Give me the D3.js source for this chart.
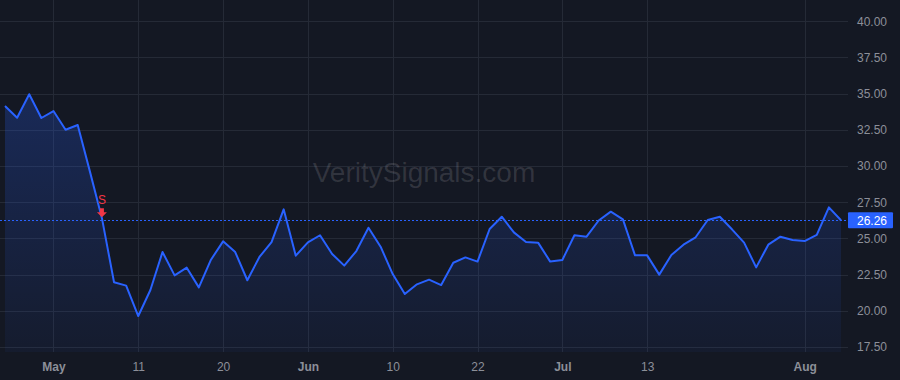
<!DOCTYPE html>
<html>
<head>
<meta charset="utf-8">
<script src="https://cdn.jsdelivr.net/npm/d3@7"></script>
<style>
  html, body { margin: 0; padding: 0; background: #141823; }
  svg { display: block; font-family: "Liberation Sans", Arial, sans-serif; }
</style>
</head>
<body>
<div id="chart"></div>
<script>
// closing values, one per bar
const values = [
  34.15, 33.34, 34.96, 33.32, 33.80, 32.51, 32.84, 29.65, 26.40, 21.97,
  21.74, 19.64, 21.44, 24.06, 22.45, 22.98, 21.62, 23.53, 24.80, 24.06,
  22.11, 23.72, 24.75, 27.01, 23.81, 24.73, 25.22, 23.93, 23.12, 24.13,
  25.74, 24.43, 22.54, 21.16, 21.83, 22.15, 21.78, 23.32, 23.69, 23.40,
  25.65, 26.50, 25.42, 24.75, 24.71, 23.40, 23.51, 25.22, 25.12, 26.24,
  26.85, 26.32, 23.83, 23.83, 22.50, 23.86, 24.57, 25.08, 26.27, 26.50,
  25.63, 24.71, 23.00, 24.57, 25.12, 24.89, 24.82, 25.24, 27.15, 26.26
];

// time axis labels (bar index -> text)
const timeTickIndex = [4, 11, 18, 25, 32, 39, 46, 53, 66];
const timeTickText = ["May", "11", "20", "Jun", "10", "22", "Jul", "13", "Aug"];
const monthLabels = ["May", "Jun", "Jul", "Aug"];

const priceTicks = [17.5, 20, 22.5, 25, 27.5, 30, 32.5, 35, 37.5, 40];
const lastPrice = 26.26;
const signalIndex = 8;
const signalText = "S";
const watermark = "VeritySignals.com";

const W = 900, H = 380;
const plotRight = 848, plotBottom = 352;

const svg = d3.select("#chart").append("svg")
  .attr("width", W)
  .attr("height", H);

svg.append("rect").attr("width", W).attr("height", H).attr("fill", "#141823");

const x = d3.scaleLinear().domain([0, values.length - 1]).range([5, 841]);
const y = d3.scaleLinear().domain([17.5, 40]).range([347, 21.3]);

// grid
const grid = svg.append("g").attr("stroke", "#252a36").attr("stroke-width", 1);
grid.selectAll(".hg")
  .data(priceTicks)
  .enter()
  .append("line")
  .attr("x1", 0).attr("x2", plotRight)
  .attr("y1", d => Math.round(y(d)) + 0.5)
  .attr("y2", d => Math.round(y(d)) + 0.5);
grid.selectAll(".vg")
  .data(timeTickIndex)
  .enter()
  .append("line")
  .attr("y1", 0).attr("y2", plotBottom)
  .attr("x1", d => Math.round(x(d)) + 0.5)
  .attr("x2", d => Math.round(x(d)) + 0.5);

// watermark
svg.append("text")
  .attr("x", 424)
  .attr("y", 182)
  .attr("text-anchor", "middle")
  .attr("font-size", 28)
  .attr("fill", "#ffffff")
  .attr("fill-opacity", 0.13)
  .text(watermark);

// area gradient
const defs = svg.append("defs");
const grad = defs.append("linearGradient")
  .attr("id", "areaGrad")
  .attr("gradientUnits", "userSpaceOnUse")
  .attr("x1", 0).attr("x2", 0)
  .attr("y1", y(d3.max(values))).attr("y2", plotBottom);
grad.append("stop").attr("offset", "0%").attr("stop-color", "#2962ff").attr("stop-opacity", 0.24);
grad.append("stop").attr("offset", "100%").attr("stop-color", "#2962ff").attr("stop-opacity", 0.05);

const area = d3.area()
  .x((d, i) => x(i))
  .y0(plotBottom)
  .y1(d => y(d));

svg.append("path")
  .datum(values)
  .attr("d", area)
  .attr("fill", "url(#areaGrad)");

// last price line
svg.append("line")
  .attr("x1", 0).attr("x2", plotRight)
  .attr("y1", Math.round(y(lastPrice)) + 0.5)
  .attr("y2", Math.round(y(lastPrice)) + 0.5)
  .attr("stroke", "#2962ff")
  .attr("stroke-width", 1)
  .attr("stroke-dasharray", "2,2");

const line = d3.line()
  .x((d, i) => x(i))
  .y(d => y(d));

svg.append("path")
  .datum(values)
  .attr("d", line)
  .attr("fill", "none")
  .attr("stroke", "#2962ff")
  .attr("stroke-width", 2)
  .attr("stroke-linejoin", "round");

// sell marker
const sx = x(signalIndex);
const sy = y(values[signalIndex]);
svg.append("text")
  .attr("x", sx)
  .attr("y", sy - 14)
  .attr("text-anchor", "middle")
  .attr("font-size", 12)
  .attr("fill", "#f23645")
  .text(signalText);
svg.append("path")
  .attr("d", `M${sx - 2},${sy - 10} h4 v4 h3 l-5,5 l-5,-5 h3 z`)
  .attr("fill", "#f23645");

// price axis
svg.append("rect")
  .attr("x", plotRight).attr("y", 0)
  .attr("width", W - plotRight).attr("height", H)
  .attr("fill", "#141823");

const yAxis = svg.append("g")
  .attr("transform", `translate(${plotRight},0)`)
  .call(d3.axisRight(y).tickValues(priceTicks).tickFormat(d3.format(".2f")).tickSize(0).tickPadding(9));
yAxis.select(".domain").remove();
yAxis.selectAll("text")
  .attr("fill", "#8c8f99")
  .attr("font-size", 12)
  .attr("font-family", "Liberation Sans, Arial, sans-serif");

// last price label
const ly = y(lastPrice);
svg.append("rect")
  .attr("x", plotRight).attr("y", ly - 8)
  .attr("width", 45).attr("height", 16)
  .attr("rx", 1)
  .attr("fill", "#2962ff");
svg.append("text")
  .attr("x", plotRight + 9)
  .attr("y", ly + 4.5)
  .attr("font-size", 12)
  .attr("fill", "#ffffff")
  .text(d3.format(".2f")(lastPrice));

// time axis
const xAxis = svg.append("g")
  .attr("transform", `translate(0,${plotBottom})`)
  .call(d3.axisBottom(x)
    .tickValues(timeTickIndex)
    .tickFormat((d, i) => timeTickText[i])
    .tickSize(0)
    .tickPadding(10));
xAxis.select(".domain").remove();
xAxis.selectAll("text")
  .attr("fill", "#8c8f99")
  .attr("font-size", 12)
  .attr("font-family", "Liberation Sans, Arial, sans-serif")
  .attr("font-weight", (d, i) => monthLabels.includes(timeTickText[i]) ? "bold" : "normal");
</script>
</body>
</html>
